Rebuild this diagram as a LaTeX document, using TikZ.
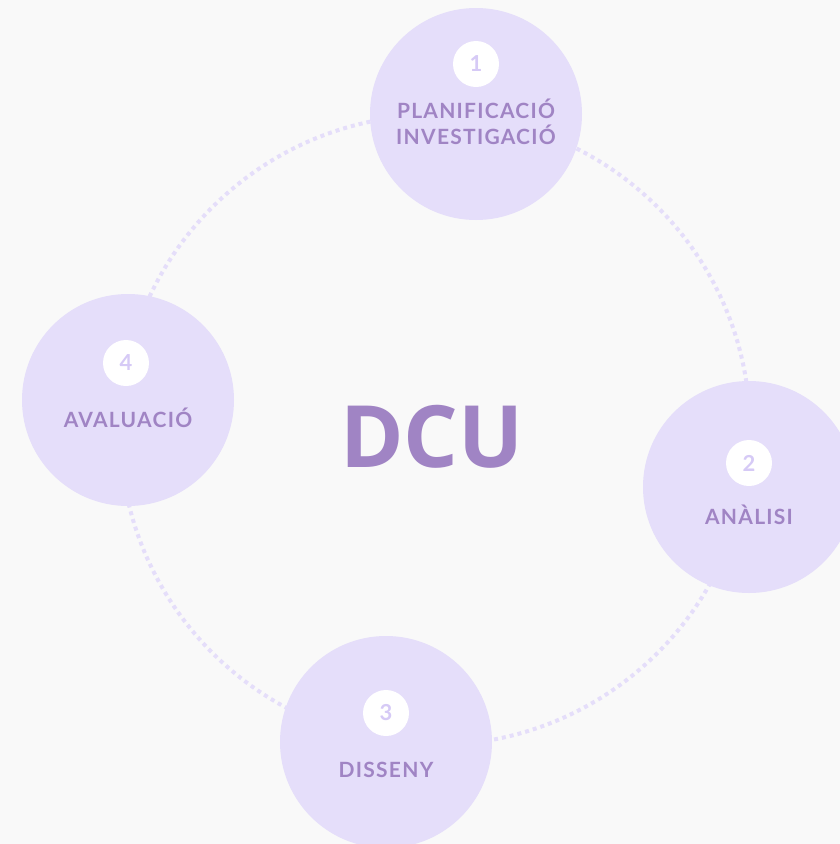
\documentclass[tikz,border=0pt]{standalone}
\usepackage{fontspec}
\setmainfont{Lato}
\newfontfamily\stagefont[LetterSpace=6]{Lato}
\newfontfamily\titlefont{Open Sans}
\usetikzlibrary{positioning}
\definecolor{bg}{HTML}{F9F9F9}
\definecolor{lilac}{HTML}{E5DEFA}
\definecolor{purple}{HTML}{A084C4}
\definecolor{numtext}{HTML}{D6CAF6}
\tikzset{
  stage/.style={circle, fill=lilac, minimum size=212pt, inner sep=0pt},
  num/.style={circle, fill=white, minimum size=46pt, inner sep=0pt, text=numtext,
    font=\stagefont\bfseries\fontsize{22}{22}\selectfont},
  lab/.style={text=purple, align=center, font=\stagefont\bfseries\fontsize{21}{26}\selectfont},
  ring/.style={draw=lilac, line width=4pt, dash pattern=on 4pt off 4pt},
}
\begin{document}
\begin{tikzpicture}[x=1pt, y=-1pt]
\fill[bg] (0,0) rectangle (840,844);
\useasboundingbox (0,0) rectangle (840,844);
% dotted cycle behind the stages
\draw[ring] (435,430) circle[radius=315pt];

\node[stage] (plan) at (476,114) {};
\node[stage] (anal) at (749,487) {};
\node[stage] (diss) at (386,742) {};
\node[stage] (aval) at (128,400) {};

\node[num] (n1) at (476,64) {1};
\node[num] (n2) at (749,463) {2};
\node[num] (n3) at (386,713) {3};
\node[num] (n4) at (126,363) {4};

\node[lab] (l1) at (476,122) {PLANIFICACIÓ\\INVESTIGACIÓ};
\node[lab] (l2) at (749,515) {ANÀLISI};
\node[lab] (l3) at (386,770) {DISSENY};
\node[lab] (l4) at (128,418) {AVALUACIÓ};

\node[text=purple, font=\titlefont\bfseries\fontsize{86}{86}\selectfont] (dcu) at (432,437) {DCU};
\end{tikzpicture}
\end{document}
